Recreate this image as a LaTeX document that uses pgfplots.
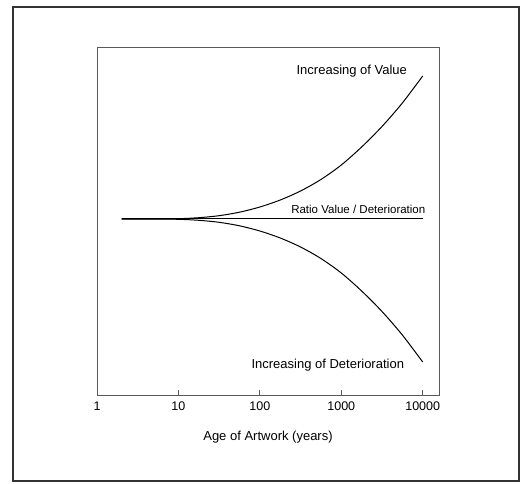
\documentclass[border=0pt]{standalone}
\usepackage{pgfplots}
\pgfplotsset{compat=1.18}
\usepackage{fontspec}
\setmainfont{Liberation Sans}
\begin{document}
\begin{tikzpicture}[x=1pt,y=1pt]
\path[use as bounding box] (0,0) rectangle (523,483);
\draw[line width=2.5pt, black!80] (13,2) rectangle (519,476);
\begin{axis}[
  at={(97pt,88pt)}, anchor=south west,
  scale only axis, width=342pt, height=348pt,
  xmode=log, xmin=1, xmax=15849,
  ymin=0, ymax=348,
  ytick=\empty,
  xtick={1,10,100,1000,10000},
  xticklabels={1,10,100,1000,10000},
  minor x tick style={draw=none},
  xtick pos=lower,
  tick align=inside,
  major tick length=5pt,
  axis line style={black!65, line width=0.9pt},
  every tick/.style={black!65, line width=0.8pt},
  /pgf/number format/assume math mode=true,
  tick label style={font=\fontsize{12.5}{14}\selectfont},
  xticklabel style={yshift=-3pt},
  xlabel={Age of Artwork (years)},
  xlabel style={at={(axis description cs:0.5,0)}, anchor=center, yshift=-42pt, font=\fontsize{13}{15}\selectfont},
  clip=false,
]
\addplot[black, line width=1pt, smooth] coordinates {
(2,176) (5,176) (10,176.3) (17.8,177.3) (31.6,179.3) (56.2,182.8) (100,188) (178,195) (316,204) (562,215.5) (1000,230) (1778,248) (3162,268.5) (5623,292) (10000,319)
};
\addplot[black, line width=1pt, smooth] coordinates {
(2,176) (5,176) (10,175.7) (17.8,174.7) (31.6,172.7) (56.2,169.2) (100,164) (178,157) (316,148) (562,136.5) (1000,122) (1778,104) (3162,83.5) (5623,60) (10000,33)
};
\addplot[black, line width=1pt] coordinates {
(2,176) (10000,176)
};
\node[font=\fontsize{13}{15}\selectfont] at (axis cs:1346,324) {Increasing of Value};
\node[font=\fontsize{11.5}{13}\selectfont] at (axis cs:1618,186) {Ratio Value / Deterioration};
\node[font=\fontsize{13}{15}\selectfont] at (axis cs:683,30) {Increasing of Deterioration};
\end{axis}
\end{tikzpicture}
\end{document}
